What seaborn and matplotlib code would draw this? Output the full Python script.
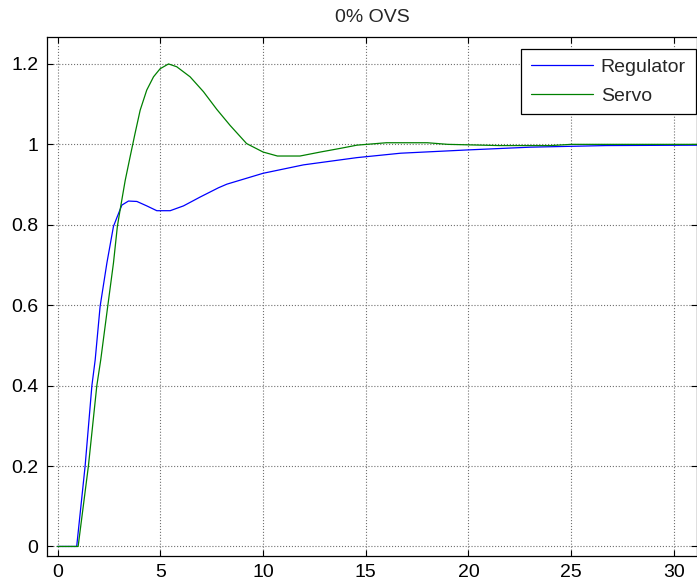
import numpy as np
import pandas as pd
import matplotlib
matplotlib.use("Agg")
import matplotlib.pyplot as plt
import seaborn as sns

# ---- data ----
t_reg = [0, 0.93, 1.34, 1.67, 1.83, 2.07, 2.4, 2.72, 2.88, 3.13, 3.45, 3.86, 4.34, 4.83, 5.48,
         6.13, 6.94, 7.83, 8.24, 10, 11.97, 14.57, 16.7, 19.9, 23, 26.7, 31.2]
y_reg = [0, 0, 0.2, 0.4, 0.464, 0.597, 0.705, 0.796, 0.817, 0.849, 0.859, 0.858, 0.847, 0.835, 0.835,
         0.847, 0.869, 0.892, 0.901, 0.928, 0.949, 0.967, 0.978, 0.986, 0.993, 0.997, 0.998]

t_srv = [0, 1.0, 1.5, 1.91, 2.1, 2.44, 2.72, 2.91, 3.04, 3.29, 3.53, 3.77, 4.02, 4.34, 4.67, 4.99,
         5.4, 5.8, 6.45, 7.1, 7.75, 8.4, 9.2, 10.0, 10.7, 11.8, 12.8, 13.76, 14.57, 16, 18, 19,
         21.5, 24, 25, 31.2]
y_srv = [0, 0, 0.2, 0.4, 0.464, 0.597, 0.705, 0.796, 0.836, 0.91, 0.969, 1.027, 1.085, 1.135, 1.168, 1.188,
         1.2, 1.193, 1.168, 1.131, 1.087, 1.047, 1.002, 0.981, 0.971, 0.971, 0.981, 0.99, 0.998, 1.004, 1.004, 1.0,
         0.997, 0.997, 1.0, 1.0]

series_names = ["Regulator", "Servo"]
x_ticks = [0, 5, 10, 15, 20, 25, 30]
y_ticks = [0, 0.2, 0.4, 0.6, 0.8, 1.0, 1.2]
y_tick_labels = ["0", "0.2", "0.4", "0.6", "0.8", "1", "1.2"]
title = "0% OVS"

df = pd.concat([
    pd.DataFrame({"t": t_reg, "y": y_reg, "series": series_names[0]}),
    pd.DataFrame({"t": t_srv, "y": y_srv, "series": series_names[1]}),
], ignore_index=True)

sns.set_style("white")
plt.rcParams["font.family"] = ["Liberation Sans", "DejaVu Sans"]

W, H = 697, 588
fig = plt.figure(figsize=(W / 100, H / 100), dpi=100)
ax_l, ax_r, ax_t, ax_b = 46.7, 697.5, 37, 555.7
ax = fig.add_axes([ax_l / W, 1 - ax_b / H, (ax_r - ax_l) / W, (ax_b - ax_t) / H])

sns.lineplot(data=df, x="t", y="y", hue="series", palette=["#0000ff", "#008000"],
             estimator=None, sort=False, linewidth=0.9, ax=ax)

ax.set_xlim(-0.53, 31.15)
ax.set_ylim(-0.023, 1.267)
ax.set_xticks(x_ticks)
ax.set_xticklabels([str(v) for v in x_ticks])
ax.set_yticks(y_ticks)
ax.set_yticklabels(y_tick_labels)
ax.set_xlabel("")
ax.set_ylabel("")

ax.grid(True, linestyle=":", color="#707070", linewidth=0.8)
for s in ax.spines.values():
    s.set_color("black")
    s.set_linewidth(0.9)
ax.tick_params(axis="both", direction="in", length=4, width=0.8, colors="black",
               labelsize=14, top=True, right=True, bottom=True, left=True, pad=6)

fig.text((ax_l + ax_r) / 2 / W, 1 - 17 / H, title, ha="center", va="center", fontsize=14)

leg = ax.legend(loc="upper right", bbox_to_anchor=(0.997, 0.977), fontsize=14,
                frameon=True, fancybox=False, shadow=False, handlelength=3.2,
                handletextpad=0.4, borderpad=0.5, labelspacing=0.55, borderaxespad=0)
leg.get_frame().set_edgecolor("black")
leg.get_frame().set_linewidth(0.9)
leg.get_frame().set_alpha(1)
leg.set_title(None)

fig.savefig("out.png", dpi=100)
